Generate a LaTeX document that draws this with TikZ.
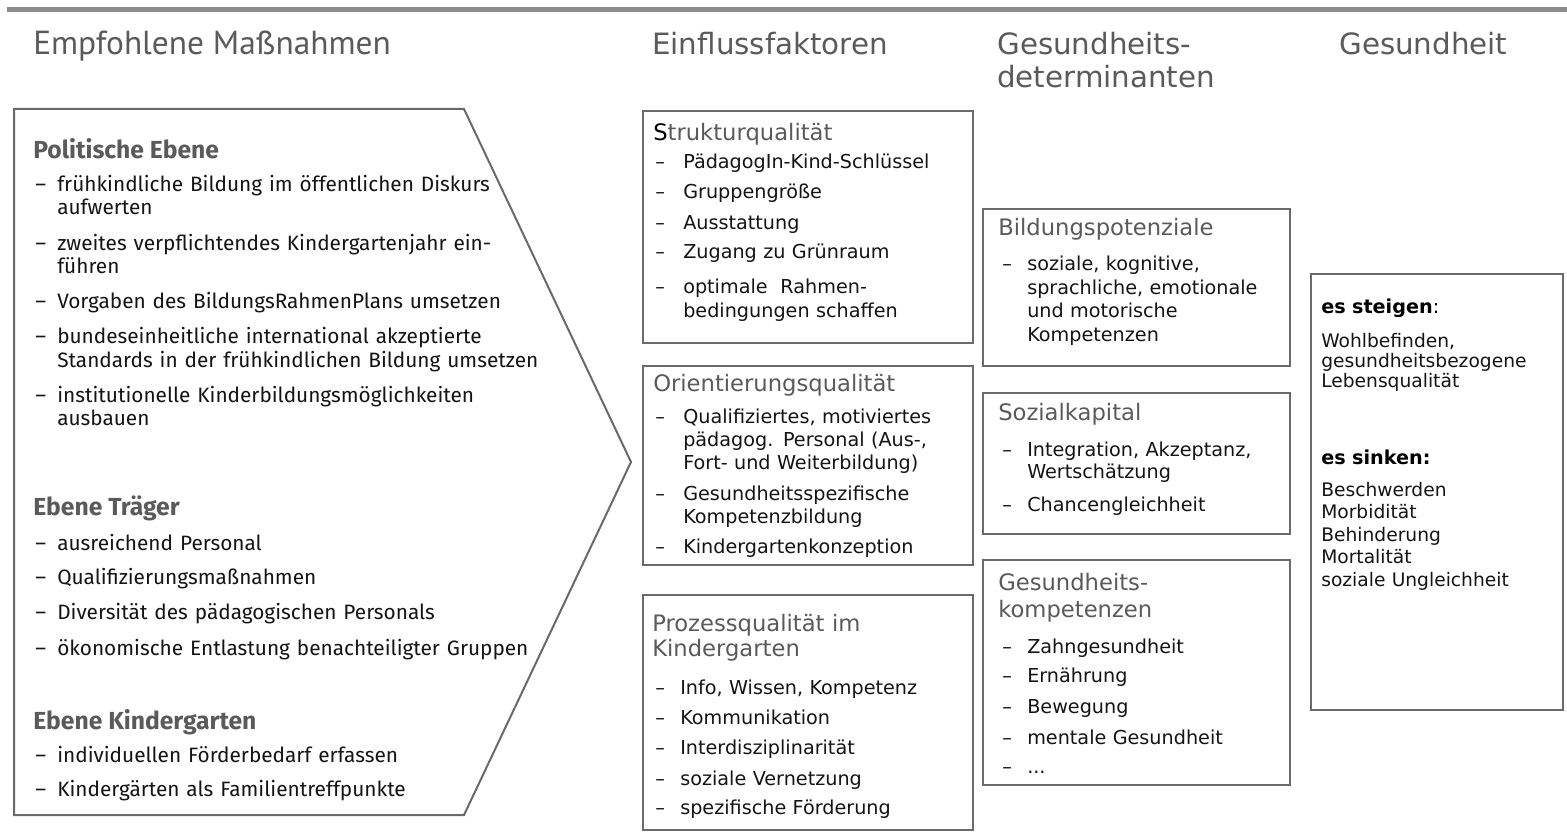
\documentclass[tikz,border=0pt]{standalone}
\usepackage{fontspec}
\setmainfont{DejaVu Sans}
\newfontfamily\lftfont{Fira Sans}
\newfontfamily\ptfont{PT Sans}
\newfontfamily\dvsfont{DejaVu Sans}
\definecolor{hdgray}{HTML}{5A5A5A}
\definecolor{linegray}{HTML}{6A6A6A}
\definecolor{bargray}{HTML}{8C8C8C}
\definecolor{txt}{HTML}{141414}
\tikzset{
  frame/.style={draw=linegray, line width=1.5pt},
  tophd/.style={anchor=base west, inner sep=0pt, text=hdgray, font=\dvsfont\fontsize{22}{25}\selectfont},
  lefthd/.style={anchor=base west, inner sep=0pt, text=hdgray, font=\ptfont\fontsize{25}{28}\selectfont},
  lhd/.style={anchor=base west, inner sep=0pt, text=hdgray, font=\lftfont\bfseries\fontsize{18.5}{20}\selectfont},
  ltxt/.style={anchor=base west, inner sep=0pt, text=txt, text width=480pt, align=left, font=\lftfont\fontsize{15.6}{17.25}\selectfont},
  ldash/.style={anchor=base west, inner sep=0pt, text=txt, font=\lftfont\fontsize{15.6}{17.25}\selectfont},
  mhd/.style={anchor=base west, inner sep=0pt, text=hdgray, text width=300pt, align=left, font=\dvsfont\fontsize{17}{19}\selectfont},
  mtxt/.style={anchor=base west, inner sep=0pt, text=txt, text width=250pt, align=left, font=\dvsfont\fontsize{14.4}{17.6}\selectfont},
  mdash/.style={anchor=base west, inner sep=0pt, text=txt, font=\dvsfont\fontsize{14.4}{17.6}\selectfont},
}
\begin{document}
\begin{tikzpicture}[x=0.75pt,y=-0.75pt]
\useasboundingbox (0,0) rectangle (1567,834);
\fill[white] (0,0) rectangle (1567,834);
% top bar
\fill[bargray] (7,7) rectangle (1567,12);

% column headings
\node[lefthd] (h1) at (33,55) {Empfohlene Maßnahmen};
\node[tophd] (h2) at (652,55) {Einflussfaktoren};
\node[tophd, text width=300pt, align=left, font=\dvsfont\fontsize{22}{24.75}\selectfont] (h3) at (997,55) {Gesundheits-\\determinanten};
\node[tophd] (h4) at (1339,55) {Gesundheit};

% left pentagon
\draw[frame, line join=miter] (14,109) -- (464,109) -- (631,462) -- (464,815) -- (14,815) -- cycle;

\node[lhd] (pe) at (33,159) {Politische Ebene};
\node[ldash] (pd1) at (35,192) {–};
\node[ltxt] (p1) at (57,192) {frühkindliche Bildung im öffentlichen Diskurs\\aufwerten};
\node[ldash] (pd2) at (35,251) {–};
\node[ltxt] (p2) at (57,251) {zweites verpflichtendes Kindergartenjahr ein-\\führen};
\node[ldash] (pd3) at (35,309) {–};
\node[ltxt] (p3) at (57,309) {Vorgaben des BildungsRahmenPlans umsetzen};
\node[ldash] (pd4) at (35,344) {–};
\node[ltxt] (p4) at (57,344) {bundeseinheitliche international akzeptierte\\Standards in der frühkindlichen Bildung umsetzen};
\node[ldash] (pd5) at (35,402) {–};
\node[ltxt] (p5) at (57,402) {institutionelle Kinderbildungsmöglichkeiten\\ausbauen};

\node[lhd] (te) at (33,515) {Ebene Träger};
\node[ldash] (td1) at (35,550) {–};
\node[ltxt] (t1) at (57,550) {ausreichend Personal};
\node[ldash] (td2) at (35,584) {–};
\node[ltxt] (t2) at (57,584) {Qualifizierungsmaßnahmen};
\node[ldash] (td3) at (35,619) {–};
\node[ltxt] (t3) at (57,619) {Diversität des pädagogischen Personals};
\node[ldash] (td4) at (35,655) {–};
\node[ltxt] (t4) at (57,655) {ökonomische Entlastung benachteiligter Gruppen};

\node[lhd] (ke) at (33,729) {Ebene Kindergarten};
\node[ldash] (kd1) at (35,762) {–};
\node[ltxt] (k1) at (57,762) {individuellen Förderbedarf erfassen};
\node[ldash] (kd2) at (35,796) {–};
\node[ltxt] (k2) at (57,796) {Kindergärten als Familientreffpunkte};

% column 2 boxes
\draw[frame] (643,111) rectangle (973,343);
\draw[frame] (643,366) rectangle (973,565);
\draw[frame] (643,595) rectangle (973,830);

\node[mhd] (sq) at (653,141) {{\color{black}S}trukturqualität};
\node[mdash] (sd1) at (655,169) {–};
\node[mtxt] (s1) at (683,169) {PädagogIn-Kind-Schlüssel};
\node[mdash] (sd2) at (655,199) {–};
\node[mtxt] (s2) at (683,199) {Gruppengröße};
\node[mdash] (sd3) at (655,230) {–};
\node[mtxt] (s3) at (683,230) {Ausstattung};
\node[mdash] (sd4) at (655,259) {–};
\node[mtxt] (s4) at (683,259) {Zugang zu Grünraum};
\node[mdash] (sd5) at (655,294) {–};
\node[mtxt, font=\dvsfont\fontsize{14.4}{18}\selectfont] (s5) at (683,294) {optimale\ \ Rahmen-\\bedingungen schaffen};

\node[mhd] (oq) at (653,391) {Orientierungsqualität};
\node[mdash] (od1) at (655,423) {–};
\node[mtxt] (o1) at (683,423) {Qualifiziertes, motiviertes\\pädagog. Personal (Aus-,\\Fort- und Weiterbildung)};
\node[mdash] (od2) at (655,500) {–};
\node[mtxt] (o2) at (683,500) {Gesundheitsspezifische\\Kompetenzbildung};
\node[mdash] (od3) at (655,553) {–};
\node[mtxt] (o3) at (683,553) {Kindergartenkonzeption};

\node[mhd, font=\dvsfont\fontsize{17}{18.75}\selectfont] (pq) at (652,631) {Prozessqualität im\\Kindergarten};
\node[mdash] (qd1) at (655,694) {–};
\node[mtxt] (q1) at (680,694) {Info, Wissen, Kompetenz};
\node[mdash] (qd2) at (655,724) {–};
\node[mtxt] (q2) at (680,724) {Kommunikation};
\node[mdash] (qd3) at (655,754) {–};
\node[mtxt] (q3) at (680,754) {Interdisziplinarität};
\node[mdash] (qd4) at (655,785) {–};
\node[mtxt] (q4) at (680,785) {soziale Vernetzung};
\node[mdash] (qd5) at (655,814) {–};
\node[mtxt] (q5) at (680,814) {spezifische Förderung};

% column 3 boxes
\draw[frame] (983,209) rectangle (1290,366);
\draw[frame] (983,393) rectangle (1290,534);
\draw[frame] (983,560) rectangle (1290,785);

\node[mhd] (bp) at (998,236) {Bildungspotenziale};
\node[mdash] (bd1) at (1002,271) {–};
\node[mtxt] (b1) at (1027,271) {soziale, kognitive,\\sprachliche, emotionale\\und motorische\\Kompetenzen};

\node[mhd] (sk) at (998,420) {Sozialkapital};
\node[mdash] (kd1x) at (1002,456) {–};
\node[mtxt, font=\dvsfont\fontsize{14.4}{16.5}\selectfont] (z1) at (1027,456) {Integration, Akzeptanz,\\Wertschätzung};
\node[mdash] (kd2x) at (1002,511) {–};
\node[mtxt] (z2) at (1027,511) {Chancengleichheit};

\node[mhd, font=\dvsfont\fontsize{17}{20.25}\selectfont] (gk) at (998,590) {Gesundheits-\\kompetenzen};
\node[mdash] (gd1) at (1002,653) {–};
\node[mtxt] (g1) at (1027,653) {Zahngesundheit};
\node[mdash] (gd2) at (1002,682) {–};
\node[mtxt] (g2) at (1027,682) {Ernährung};
\node[mdash] (gd3) at (1002,713) {–};
\node[mtxt] (g3) at (1027,713) {Bewegung};
\node[mdash] (gd4) at (1002,744) {–};
\node[mtxt] (g4) at (1027,744) {mentale Gesundheit};
\node[mdash] (gd5) at (1002,773) {–};
\node[mtxt] (g5) at (1027,773) {...};

% column 4 box
\draw[frame] (1311,274) rectangle (1563,710);
\node[mtxt, text=black] (st) at (1321,314) {\textbf{es steigen}:};
\node[mtxt, font=\dvsfont\fontsize{14}{15}\selectfont] (st1) at (1321,348) {Wohlbefinden,\\gesundheitsbezogene\\Lebensqualität};
\node[mtxt, text=black] (sn) at (1321,464) {\textbf{es sinken:}};
\node[mtxt, font=\dvsfont\fontsize{14}{16.9}\selectfont] (sn1) at (1321,496) {Beschwerden\\Morbidität\\Behinderung\\Mortalität\\soziale Ungleichheit};
\end{tikzpicture}
\end{document}
